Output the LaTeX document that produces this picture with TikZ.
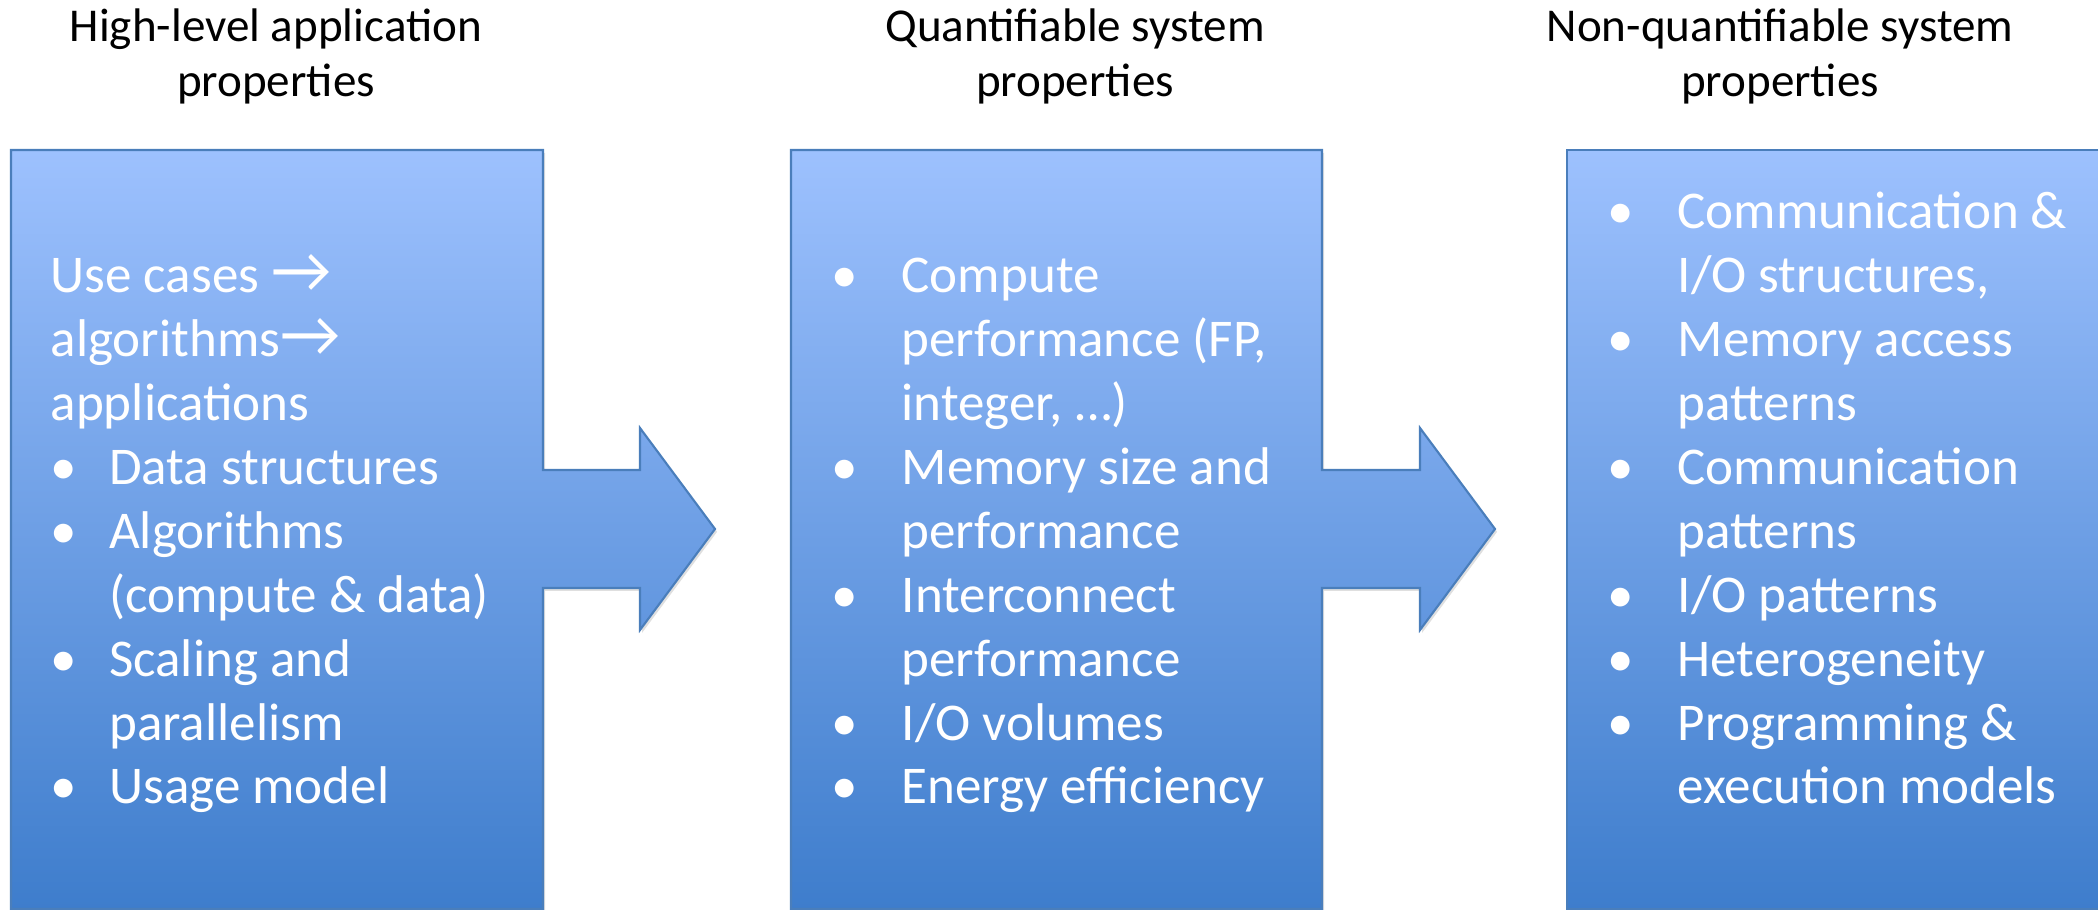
\documentclass[tikz,border=0pt]{standalone}
\usepackage{fontspec}
\setmainfont{Carlito}
\usetikzlibrary{shadows}
\definecolor{paneltop}{HTML}{9DC1FE}
\definecolor{panelbot}{HTML}{3E7DCC}
\definecolor{panelline}{HTML}{4A7EBB}
\newcommand{\itm}[1][0.70cm]{\makebox[#1][l]{\textbullet}}
\newcommand{\cnt}[1][0.70cm]{\hspace*{#1}}
\newcommand{\rarr}{\scalebox{1.25}{\char"2192}}

\begin{document}
\begin{tikzpicture}[
  panel/.style={draw=panelline, line width=0.6pt, top color=paneltop, bottom color=panelbot,
    drop shadow={shadow xshift=0.6pt, shadow yshift=-0.8pt, opacity=0.25}},
  head/.style={font=\fontsize{13.4}{15.65}\selectfont, align=center, anchor=base, inner sep=0pt},
  body/.style={font=\fontsize{15.1}{18.2}\selectfont, align=left, text=white, anchor=base west, inner sep=0pt}
]
  \useasboundingbox (0,0) rectangle (20.98,-9.10);

  % callouts with their arrows
  \path[panel] (0.11,-1.50) -- (5.43,-1.50) -- (5.43,-4.70) -- (6.40,-4.70) -- (6.40,-4.28) -- (7.15,-5.29)
    -- (6.40,-6.30) -- (6.40,-5.88) -- (5.43,-5.88) -- (5.43,-9.09) -- (0.11,-9.09) -- cycle;
  \path[panel] (7.91,-1.50) -- (13.22,-1.50) -- (13.22,-4.70) -- (14.20,-4.70) -- (14.20,-4.28) -- (14.95,-5.29)
    -- (14.20,-6.30) -- (14.20,-5.88) -- (13.22,-5.88) -- (13.22,-9.09) -- (7.91,-9.09) -- cycle;
  \path[panel] (15.67,-1.50) rectangle (21.20,-9.09);

  % titles (anchored on their last line)
  \node[head] (apptitle) at (2.76,-0.97) {High-level application\\properties};
  \node[head] (quanttitle) at (10.75,-0.97) {Quantifiable system\\properties};
  \node[head] (nonqtitle) at (17.80,-0.97) {Non-quantifiable system\\properties};

  \node[body] (app) at (0.50,-8.04) {Use cases \rarr\\algorithms\rarr\\applications\\
    \itm[0.585cm]Data structures\\\itm[0.585cm]Algorithms\\\cnt[0.585cm](compute \& data)\\
    \itm[0.585cm]Scaling and\\\cnt[0.585cm]parallelism\\\itm[0.585cm]Usage model};
  \node[body] (quant) at (8.31,-8.04) {\itm Compute\\\cnt performance (FP,\\\cnt integer, …)\\
    \itm Memory size and\\\cnt performance\\\itm Interconnect\\\cnt performance\\
    \itm I/O volumes\\\itm Energy efficiency};
  \node[body] (nonq) at (16.07,-8.04) {\itm Communication \&\\\cnt I/O structures,\\
    \itm Memory access\\\cnt patterns\\\itm Communication\\\cnt patterns\\\itm I/O patterns\\
    \itm Heterogeneity\\\itm Programming \&\\\cnt execution models};
\end{tikzpicture}
\end{document}
